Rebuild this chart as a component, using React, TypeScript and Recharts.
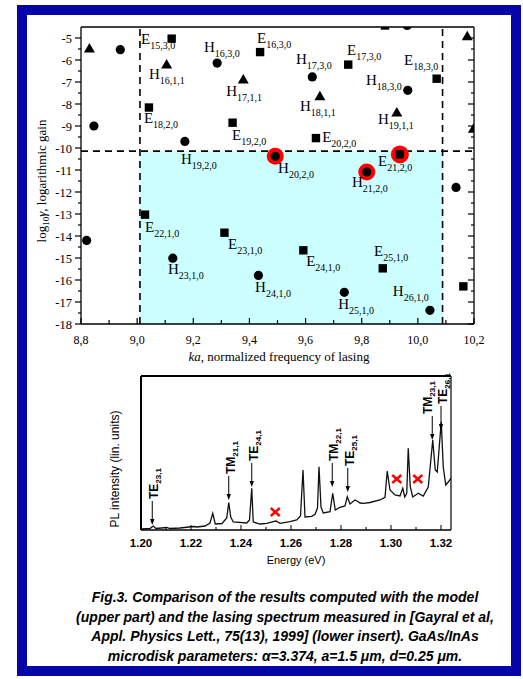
import React from "react";
import {
  ScatterChart,
  Scatter,
  XAxis,
  YAxis,
  ReferenceArea,
  ReferenceLine,
  ComposedChart,
  Line,
} from "recharts";

const SERIF = "'Liberation Serif', 'Times New Roman', serif";
const SANS = "'Liberation Sans', Arial, sans-serif";

// ---------- upper part: computed modes, ka vs log10(gain) ----------
const kaTicks = [8.8, 8.9, 9.0, 9.1, 9.2, 9.3, 9.4, 9.5, 9.6, 9.7, 9.8, 9.9, 10.0, 10.1, 10.2];
const gainTicks = [
  -18, -17.5, -17, -16.5, -16, -15.5, -15, -14.5, -14, -13.5, -13, -12.5, -12, -11.5,
  -11, -10.5, -10, -9.5, -9, -8.5, -8, -7.5, -7, -6.5, -6, -5.5, -5,
];

const hCircles = [
  { ka: 8.94, g: -5.53 },
  { ka: 9.285, g: -6.14 },
  { ka: 9.624, g: -6.77 },
  { ka: 9.964, g: -7.38 },
  { ka: 9.962, g: -4.43 },
  { ka: 8.846, g: -9.0 },
  { ka: 9.17, g: -9.7 },
  { ka: 10.136, g: -11.79 },
  { ka: 8.82, g: -14.2 },
  { ka: 9.127, g: -15.01 },
  { ka: 9.432, g: -15.79 },
  { ka: 9.738, g: -16.56 },
  { ka: 10.043, g: -17.38 },
];

const eSquares = [
  { ka: 9.123, g: -5.03 },
  { ka: 9.438, g: -5.64 },
  { ka: 9.752, g: -6.21 },
  { ka: 10.067, g: -6.85 },
  { ka: 9.883, g: -4.43 },
  { ka: 9.042, g: -8.16 },
  { ka: 9.34, g: -8.85 },
  { ka: 9.637, g: -9.55 },
  { ka: 9.028, g: -13.03 },
  { ka: 9.311, g: -13.85 },
  { ka: 9.592, g: -14.65 },
  { ka: 9.875, g: -15.47 },
  { ka: 10.162, g: -16.29 },
];

const hTriangles = [
  { ka: 8.83, g: -5.48 },
  { ka: 9.105, g: -6.2 },
  { ka: 9.378, g: -6.89 },
  { ka: 9.651, g: -7.65 },
  { ka: 9.925, g: -8.39 },
  { ka: 10.176, g: -4.92 },
  { ka: 10.198, g: -9.12 },
];

// modes that match the measured lasing lines
const lasingCircles = [
  { ka: 9.492, g: -10.38 },
  { ka: 9.818, g: -11.09 },
];
const lasingSquares = [{ ka: 9.936, g: -10.29 }];

const modeLabels = [
  { ka: 9.014, g: -5.06, m: "E", idx: "15,3,0" },
  { ka: 9.238, g: -5.42, m: "H", idx: "16,3,0" },
  { ka: 9.427, g: -5.01, m: "E", idx: "16,3,0" },
  { ka: 9.042, g: -6.65, m: "H", idx: "16,1,1" },
  { ka: 9.566, g: -5.97, m: "H", idx: "17,3,0" },
  { ka: 9.748, g: -5.56, m: "E", idx: "17,3,0" },
  { ka: 9.951, g: -6.01, m: "E", idx: "18,3,0" },
  { ka: 9.317, g: -7.42, m: "H", idx: "17,1,1" },
  { ka: 9.815, g: -6.92, m: "H", idx: "18,3,0" },
  { ka: 9.58, g: -8.1, m: "H", idx: "18,1,1" },
  { ka: 9.024, g: -8.65, m: "E", idx: "18,2,0" },
  { ka: 9.858, g: -8.7, m: "H", idx: "19,1,1" },
  { ka: 9.338, g: -9.42, m: "E", idx: "19,2,0" },
  { ka: 9.659, g: -9.51, m: "E", idx: "20,2,0" },
  { ka: 9.156, g: -10.51, m: "H", idx: "19,2,0" },
  { ka: 9.502, g: -10.92, m: "H", idx: "20,2,0" },
  { ka: 9.858, g: -10.6, m: "E", idx: "21,2,0" },
  { ka: 9.765, g: -11.56, m: "H", idx: "21,2,0" },
  { ka: 9.028, g: -13.6, m: "E", idx: "22,1,0" },
  { ka: 9.324, g: -14.38, m: "E", idx: "23,1,0" },
  { ka: 9.11, g: -15.51, m: "H", idx: "23,1,0" },
  { ka: 9.602, g: -15.15, m: "E", idx: "24,1,0" },
  { ka: 9.844, g: -14.7, m: "E", idx: "25,1,0" },
  { ka: 9.42, g: -16.33, m: "H", idx: "24,1,0" },
  { ka: 9.911, g: -16.52, m: "H", idx: "26,1,0" },
  { ka: 9.716, g: -17.11, m: "H", idx: "25,1,0" },
];

const kaWindow = [9.01, 10.088];
const gainThreshold = -10.14;

// ---------- lower insert: measured PL spectrum ----------
const energyTicks = [1.2, 1.21, 1.22, 1.23, 1.24, 1.25, 1.26, 1.27, 1.28, 1.29, 1.3, 1.31, 1.32];

const energy = [
  1.2, 1.2036, 1.2049, 1.206, 1.2103, 1.2116, 1.2156, 1.2209, 1.2224, 1.2256,
  1.2276, 1.2287, 1.2297, 1.2324, 1.2343, 1.2351, 1.2359, 1.2369, 1.2423, 1.2434,
  1.2443, 1.2449, 1.2476, 1.2503, 1.2529, 1.254, 1.2556, 1.2596, 1.2623, 1.2638,
  1.2648, 1.2656, 1.2683, 1.2696, 1.2706, 1.2712, 1.272, 1.2729, 1.2756, 1.2767,
  1.2777, 1.2796, 1.2816, 1.2825, 1.2836, 1.2856, 1.2864, 1.2876, 1.2889, 1.2916,
  1.2956, 1.2976, 1.2985, 1.2996, 1.3016, 1.3036, 1.3047, 1.3055, 1.3063, 1.3069,
  1.3077, 1.3087, 1.3109, 1.3129, 1.3149, 1.3167, 1.3177, 1.3185, 1.3201, 1.3209,
  1.3219, 1.3229, 1.324,
];
const intensity = [
  1, 1.5, 4, 1.5, 2.5, 1.5, 2, 3.5, 3, 4,
  7, 16.7, 6, 6.5, 12, 27.3, 13, 8, 7, 10,
  41.7, 8, 6, 6.7, 8.3, 9, 6.7, 8.3, 10, 14,
  60, 13, 13.7, 15.7, 22, 63.3, 23, 17, 18.3, 36.7,
  20, 22.7, 24, 33.3, 26, 30, 29, 27, 26.7, 27.5,
  30, 32.7, 59, 40, 35, 34, 41.7, 33, 36.7, 81.7,
  43.3, 33, 36.7, 34, 43, 90, 60, 58, 108.3, 63,
  45, 48, 52,
];
const spectrum = energy.map((e, i) => ({ e, v: intensity[i] }));

const peakLabels = [
  { e: 1.2045, v: 5, m: "TE", idx: "23,1" },
  { e: 1.2351, v: 30, m: "TM", idx: "21,1" },
  { e: 1.2443, v: 43, m: "TE", idx: "24,1" },
  { e: 1.2765, v: 43, m: "TM", idx: "22,1" },
  { e: 1.2827, v: 38, m: "TE", idx: "25,1" },
  { e: 1.3165, v: 90, m: "TM", idx: "23,1" },
  { e: 1.32, v: 100, m: "TE", idx: "26,1" },
];
const unmatchedLines = [
  { e: 1.2537, v: 18 },
  { e: 1.3023, v: 51 },
  { e: 1.3107, v: 51 },
];

// the TM23,1 label sits left of its arrow so it does not run into TE26,1
const labelNudge: Record<string, number> = { "TM23,1": -6.5 };

// ---------- ticks ----------
function KaTick({ x, y, payload }: any) {
  const v = payload.value as number;
  const major = Math.round(v * 10) % 2 === 0;
  return (
    <g>
      <line x1={x} x2={x} y1={y} y2={y - (major ? 6 : 4)} stroke="#000" strokeWidth={1.2} />
      {major && (
        <text x={x} y={y + 20} textAnchor="middle" fontFamily={SERIF} fontSize={12} fill="#000">
          {v.toFixed(1).replace(".", ",")}
        </text>
      )}
    </g>
  );
}

function KaTopTick({ x, y, payload }: any) {
  const major = Math.round(payload.value * 10) % 2 === 0;
  return <line x1={x} x2={x} y1={y} y2={y + (major ? 6 : 4)} stroke="#000" strokeWidth={1.2} />;
}

function GainTick({ x, y, payload }: any) {
  const v = payload.value as number;
  const major = Number.isInteger(v);
  return (
    <g>
      <line x1={x} x2={x - (major ? 6 : 3)} y1={y} y2={y} stroke="#000" strokeWidth={1.2} />
      {major && (
        <text x={x - 9} y={y + 4.5} textAnchor="end" fontFamily={SERIF} fontSize={12.5} fill="#000">
          {String(v)}
        </text>
      )}
    </g>
  );
}

function GainRightTick({ x, y, payload }: any) {
  const major = Number.isInteger(payload.value);
  return <line x1={x} x2={x - (major ? 6 : 3)} y1={y} y2={y} stroke="#000" strokeWidth={1.2} />;
}

function EnergyTick({ x, y, payload }: any) {
  const v = payload.value as number;
  const major = Math.round(v * 100) % 2 === 0;
  return (
    <g>
      <line x1={x} x2={x} y1={y} y2={y - (major ? 5 : 3)} stroke="#000" strokeWidth={1} />
      {major && (
        <text x={x} y={y + 17} textAnchor="middle" fontFamily={SANS} fontWeight="bold" fontSize={11.5} fill="#000">
          {v.toFixed(2)}
        </text>
      )}
    </g>
  );
}

// ---------- marker shapes ----------
const Dot = ({ cx, cy }: any) => <circle cx={cx} cy={cy} r={4.6} fill="#000" />;
const Box = ({ cx, cy }: any) => (
  <rect x={cx - 4.2} y={cy - 4.2} width={8.4} height={8.4} fill="#000" />
);
const Tri = ({ cx, cy }: any) => (
  <polygon points={`${cx},${cy - 5.5} ${cx + 5.5},${cy + 4} ${cx - 5.5},${cy + 4}`} fill="#000" />
);
const LasingDot = ({ cx, cy }: any) => (
  <g>
    <circle cx={cx} cy={cy} r={8.5} fill="#ff0000" />
    <circle cx={cx} cy={cy} r={4.6} fill="#000" />
  </g>
);
const LasingBox = ({ cx, cy }: any) => (
  <g>
    <circle cx={cx} cy={cy} r={9} fill="#ff0000" />
    <rect x={cx - 4.2} y={cy - 4.2} width={8.4} height={8.4} fill="#000" />
  </g>
);
const ModeLabel = ({ cx, cy, payload }: any) => (
  <text x={cx} y={cy + 5} fontFamily={SERIF} fontSize={15} fill="#000">
    {payload.m}
    <tspan fontSize={10} dy={5}>
      {payload.idx}
    </tspan>
  </text>
);

const PeakArrow = ({ cx, cy, payload }: any) => {
  const top = cy - 24;
  const shift = labelNudge[payload.m + payload.idx] ?? 0;
  return (
    <g>
      <line x1={cx} x2={cx} y1={top} y2={cy - 4} stroke="#000" strokeWidth={1} />
      <polygon points={`${cx - 2.2},${cy - 6} ${cx + 2.2},${cy - 6} ${cx},${cy}`} fill="#000" />
      <text
        transform={`translate(${cx + 6 + shift},${top - 2}) rotate(-90)`}
        fontFamily={SANS}
        fontWeight="bold"
        fontSize={12}
        fill="#000"
      >
        {payload.m}
        <tspan fontSize={8} dy={3}>
          {payload.idx}
        </tspan>
      </text>
    </g>
  );
};

const Cross = ({ cx, cy }: any) => (
  <g stroke="#ff0000" strokeWidth={2.4}>
    <line x1={cx - 4.5} y1={cy - 4} x2={cx + 4.5} y2={cy + 4} />
    <line x1={cx - 4.5} y1={cy + 4} x2={cx + 4.5} y2={cy - 4} />
  </g>
);

const axisLine = { stroke: "#000", strokeWidth: 1.3 };

function ModesChart() {
  return (
    <ScatterChart width={523} height={380} margin={{ top: 26, right: 48, bottom: 26, left: 41 }}>
      <XAxis
        xAxisId="b"
        type="number"
        dataKey="ka"
        domain={[8.8, 10.2]}
        ticks={kaTicks}
        interval={0}
        allowDataOverflow
        height={30}
        tickSize={0}
        tickMargin={0}
        tickLine={false}
        axisLine={axisLine}
        tick={<KaTick />}
      />
      <XAxis
        xAxisId="t"
        orientation="top"
        type="number"
        domain={[8.8, 10.2]}
        ticks={kaTicks}
        interval={0}
        allowDataOverflow
        height={1}
        tickSize={0}
        tickMargin={0}
        tickLine={false}
        axisLine={axisLine}
        tick={<KaTopTick />}
      />
      <YAxis
        yAxisId="l"
        type="number"
        dataKey="g"
        domain={[-18, -4.5]}
        ticks={gainTicks}
        interval={0}
        allowDataOverflow
        width={40}
        tickSize={0}
        tickMargin={0}
        tickLine={false}
        axisLine={axisLine}
        tick={<GainTick />}
      />
      <YAxis
        yAxisId="r"
        orientation="right"
        type="number"
        domain={[-18, -4.5]}
        ticks={gainTicks}
        interval={0}
        allowDataOverflow
        width={1}
        tickSize={0}
        tickMargin={0}
        tickLine={false}
        axisLine={axisLine}
        tick={<GainRightTick />}
      />
      <ReferenceArea
        xAxisId="b"
        yAxisId="l"
        x1={kaWindow[0]}
        x2={kaWindow[1]}
        y1={-18}
        y2={gainThreshold}
        fill="#ccffff"
        fillOpacity={1}
        stroke="none"
      />
      <ReferenceLine xAxisId="b" yAxisId="l" x={kaWindow[0]} stroke="#000" strokeWidth={1.6} strokeDasharray="7 5" />
      <ReferenceLine xAxisId="b" yAxisId="l" x={kaWindow[1]} stroke="#000" strokeWidth={1.6} strokeDasharray="7 5" />
      <ReferenceLine xAxisId="b" yAxisId="l" y={gainThreshold} stroke="#000" strokeWidth={1.6} strokeDasharray="7 5" />
      <Scatter xAxisId="b" yAxisId="l" data={lasingCircles} shape={<LasingDot />} isAnimationActive={false} />
      <Scatter xAxisId="b" yAxisId="l" data={lasingSquares} shape={<LasingBox />} isAnimationActive={false} />
      <Scatter xAxisId="b" yAxisId="l" data={hCircles} shape={<Dot />} isAnimationActive={false} />
      <Scatter xAxisId="b" yAxisId="l" data={eSquares} shape={<Box />} isAnimationActive={false} />
      <Scatter xAxisId="b" yAxisId="l" data={hTriangles} shape={<Tri />} isAnimationActive={false} />
      <Scatter xAxisId="b" yAxisId="l" data={modeLabels} shape={<ModeLabel />} isAnimationActive={false} />
    </ScatterChart>
  );
}

function SpectrumChart() {
  return (
    <ComposedChart
      width={523}
      height={215}
      data={spectrum}
      margin={{ top: 15, right: 71, bottom: 15, left: 140 }}
    >
      <XAxis
        xAxisId="b"
        type="number"
        dataKey="e"
        domain={[1.2, 1.324]}
        ticks={energyTicks}
        interval={0}
        allowDataOverflow
        height={30}
        tickSize={0}
        tickMargin={0}
        tickLine={false}
        axisLine={{ stroke: "#000", strokeWidth: 1.5 }}
        tick={<EnergyTick />}
      />
      <XAxis
        xAxisId="t"
        orientation="top"
        type="number"
        domain={[1.2, 1.324]}
        height={1}
        tick={false}
        tickLine={false}
        axisLine={{ stroke: "#000", strokeWidth: 2 }}
      />
      <YAxis
        yAxisId="l"
        type="number"
        domain={[0, 154]}
        width={1}
        tick={false}
        tickLine={false}
        axisLine={{ stroke: "#000", strokeWidth: 2 }}
      />
      <YAxis
        yAxisId="r"
        orientation="right"
        type="number"
        domain={[0, 154]}
        width={1}
        tick={false}
        tickLine={false}
        axisLine={{ stroke: "#000", strokeWidth: 1.2 }}
      />
      <Line
        xAxisId="b"
        yAxisId="l"
        type="linear"
        dataKey="v"
        stroke="#111"
        strokeWidth={1.3}
        dot={false}
        isAnimationActive={false}
      />
      <Scatter xAxisId="b" yAxisId="l" data={peakLabels} dataKey="v" shape={<PeakArrow />} isAnimationActive={false} />
      <Scatter xAxisId="b" yAxisId="l" data={unmatchedLines} dataKey="v" shape={<Cross />} isAnimationActive={false} />
    </ComposedChart>
  );
}

export default function App() {
  return (
    <div style={{ position: "absolute", left: 0, top: 0, width: 523, height: 679, background: "#fff" }}>
      <div
        style={{
          position: "absolute",
          left: 17,
          top: 5,
          width: 504,
          height: 671,
          boxSizing: "border-box",
          border: "10px solid #0505a8",
          background: "#fff",
        }}
      />
      <div style={{ position: "absolute", left: 0, top: 0 }}>
        <ModesChart />
      </div>
      <div style={{ position: "absolute", left: 0, top: 360 }}>
        <SpectrumChart />
      </div>
      <svg
        width={523}
        height={679}
        style={{ position: "absolute", left: 0, top: 0, pointerEvents: "none" }}
      >
        <text transform="translate(46,181) rotate(-90)" textAnchor="middle" fontFamily={SERIF} fontSize={13} fill="#000">
          log
          <tspan fontSize={9} dy={3}>
            10
          </tspan>
          <tspan fontStyle="italic" dy={-3}>
            γ
          </tspan>
          , logarithmic gain
        </text>
        <text x={279} y={361} textAnchor="middle" fontFamily={SERIF} fontSize={13} fill="#000">
          <tspan fontStyle="italic">ka</tspan>, normalized frequency of lasing
        </text>
        <text transform="translate(119,469) rotate(-90)" textAnchor="middle" fontFamily={SANS} fontSize={12} fill="#000">
          PL intensity (lin. units)
        </text>
        <text x={296} y={564} textAnchor="middle" fontFamily={SANS} fontSize={11} fill="#000">
          Energy (eV)
        </text>
      </svg>
      <div
        style={{
          position: "absolute",
          left: 285,
          top: 588,
          transform: "translateX(-50%)",
          whiteSpace: "nowrap",
          textAlign: "center",
          fontFamily: SANS,
          fontWeight: "bold",
          fontStyle: "italic",
          fontSize: 14,
          lineHeight: "19.5px",
          color: "#000",
        }}
      >
        Fig.3. Comparison of the results computed with the model
        <br />
        (upper part) and the lasing spectrum measured in [Gayral et al,
        <br />
        Appl. Physics Lett., 75(13), 1999] (lower insert). GaAs/InAs
        <br />
        microdisk parameters: α=3.374, a=1.5 μm, d=0.25 μm.
      </div>
    </div>
  );
}
